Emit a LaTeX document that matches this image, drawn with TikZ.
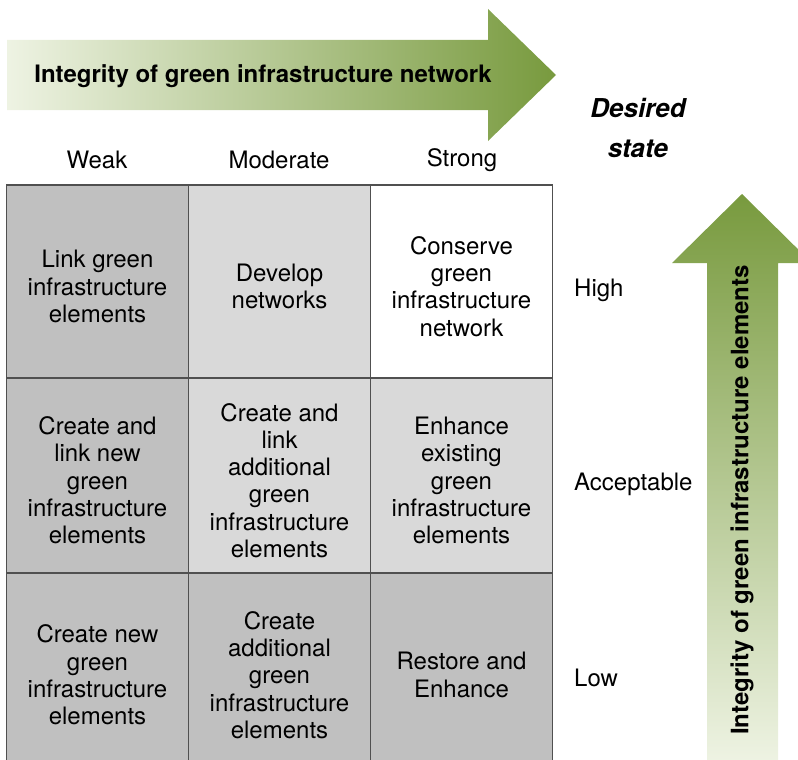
\documentclass[tikz,border=0pt]{standalone}
\usepackage{fontspec}
\setmainfont{TeX Gyre Heros}
\usetikzlibrary{positioning}
\definecolor{cellDark}{HTML}{C0C0C0}
\definecolor{cellLight}{HTML}{D9D9D9}
\definecolor{gridLine}{HTML}{505050}
\definecolor{arrowDark}{HTML}{789A3E}
\definecolor{arrowPale}{HTML}{EEF3E3}
\tikzset{cell/.style = {draw=gridLine, line width=1.1pt, minimum width=182, inner sep=0}}
\tikzset{celltext/.style = {align=center, inner sep=0, yshift=-5pt, font=\fontsize{24}{27.3}\selectfont}}
\tikzset{axislabel/.style = {inner sep=0, font=\fontsize{24}{27.3}\selectfont}}
\tikzset{arrowtext/.style = {inner sep=0, font=\fontsize{24}{27.3}\selectfont\bfseries}}

\begin{document}
\begin{tikzpicture}[x=1pt, y=-1pt]
          \clip (0,0) rectangle (798,760);
          % horizontal arrow
          \shade [left color=arrowPale, right color=arrowDark]
            (7,40) -- (488,40) -- (488,9) -- (556,75) -- (488,141) -- (488,110) -- (7,110) -- cycle;
          \node [arrowtext] (network) at (263,76) {Integrity of green infrastructure network};
          % vertical arrow
          \shade [top color=arrowDark, bottom color=arrowPale]
            (707,762) -- (707,263) -- (672,263) -- (742,194) -- (812,263) -- (778,263) -- (778,762) -- cycle;
          \node [arrowtext, rotate=90] (elements) at (742,500) {Integrity of green infrastructure elements};
          % desired state
          \node [arrowtext, align=center, font=\fontsize{26}{40}\selectfont\bfseries\itshape] (desired) at (638,128) {Desired\\state};
          % column labels
          \node [axislabel] (weak) at (97,160) {Weak};
          \node [axislabel] (moderate) at (279,160) {Moderate};
          \node [axislabel] (strong) at (462,160) {Strong};
          % cells
          \node [cell, fill=cellDark, minimum height=193,
                 label={[celltext]center:{Link green\\infrastructure\\elements}}] (wh) at (97.5,281.5) {};
          \node [cell, fill=cellLight, minimum height=193,
                 label={[celltext]center:{Develop\\networks}}] (mh) at (279.5,281.5) {};
          \node [cell, fill=white, minimum height=193,
                 label={[celltext]center:{Conserve\\green\\infrastructure\\network}}] (sh) at (461.5,281.5) {};
          \node [cell, fill=cellDark, minimum height=195,
                 label={[celltext]center:{Create and\\link new\\green\\infrastructure\\elements}}] (wa) at (97.5,475.5) {};
          \node [cell, fill=cellLight, minimum height=195,
                 label={[celltext]center:{Create and\\link\\additional\\green\\infrastructure\\elements}}] (ma) at (279.5,475.5) {};
          \node [cell, fill=cellLight, minimum height=195,
                 label={[celltext]center:{Enhance\\existing\\green\\infrastructure\\elements}}] (sa) at (461.5,475.5) {};
          \node [cell, fill=cellDark, minimum height=194,
                 label={[celltext]center:{Create new\\green\\infrastructure\\elements}}] (wl) at (97.5,670) {};
          \node [cell, fill=cellDark, minimum height=194,
                 label={[celltext]center:{Create\\additional\\green\\infrastructure\\elements}}] (ml) at (279.5,670) {};
          \node [cell, fill=cellDark, minimum height=194,
                 label={[celltext]center:{Restore and\\Enhance}}] (sl) at (461.5,670) {};
          % row labels
          \node [axislabel, anchor=west] (high) at (574,290) {High};
          \node [axislabel, anchor=west] (acceptable) at (574,484) {Acceptable};
          \node [axislabel, anchor=west] (low) at (574,678) {Low};
        \end{tikzpicture}
\end{document}
